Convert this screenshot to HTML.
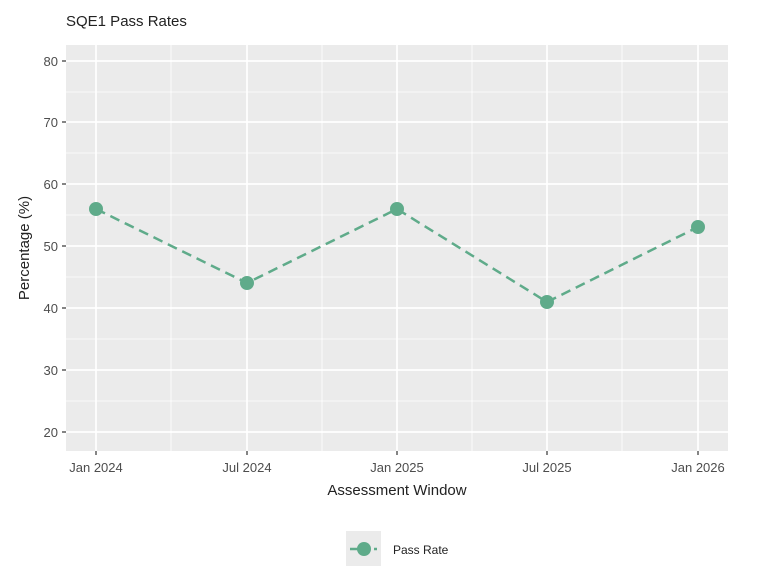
<!DOCTYPE html>
<html><head><style>body{margin:0;background:#fff}svg{display:block}</style></head><body>
<svg width="768" height="585" xmlns="http://www.w3.org/2000/svg" font-family="Liberation Sans, sans-serif">
<rect width="768" height="585" fill="#fff"/>
<text x="66" y="26" font-size="15" fill="#222">SQE1 Pass Rates</text>
<rect x="66" y="45" width="662" height="406" fill="#ebebeb"/>
<g stroke="#fff" stroke-width="0.8">
<line x1="66" x2="728" y1="92" y2="92"/><line x1="66" x2="728" y1="153" y2="153"/><line x1="66" x2="728" y1="215" y2="215"/><line x1="66" x2="728" y1="277" y2="277"/><line x1="66" x2="728" y1="339" y2="339"/><line x1="66" x2="728" y1="401" y2="401"/>
<line y1="45" y2="451" x1="171" x2="171"/><line y1="45" y2="451" x1="322" x2="322"/><line y1="45" y2="451" x1="472" x2="472"/><line y1="45" y2="451" x1="622" x2="622"/>
</g>
<g stroke="#fff" stroke-width="1.7">
<line x1="66" x2="728" y1="61" y2="61"/><line x1="66" x2="728" y1="122" y2="122"/><line x1="66" x2="728" y1="184" y2="184"/><line x1="66" x2="728" y1="246" y2="246"/><line x1="66" x2="728" y1="308" y2="308"/><line x1="66" x2="728" y1="370" y2="370"/><line x1="66" x2="728" y1="432" y2="432"/>
<line y1="45" y2="451" x1="96" x2="96"/><line y1="45" y2="451" x1="247" x2="247"/><line y1="45" y2="451" x1="397" x2="397"/><line y1="45" y2="451" x1="547" x2="547"/><line y1="45" y2="451" x1="698" x2="698"/>
</g>
<g stroke="#333" stroke-width="1.2">
<line x1="62" x2="66" y1="61" y2="61"/><line x1="62" x2="66" y1="122" y2="122"/><line x1="62" x2="66" y1="184" y2="184"/><line x1="62" x2="66" y1="246" y2="246"/><line x1="62" x2="66" y1="308" y2="308"/><line x1="62" x2="66" y1="370" y2="370"/><line x1="62" x2="66" y1="432" y2="432"/>
<line y1="451" y2="455" x1="96" x2="96"/><line y1="451" y2="455" x1="247" x2="247"/><line y1="451" y2="455" x1="397" x2="397"/><line y1="451" y2="455" x1="547" x2="547"/><line y1="451" y2="455" x1="698" x2="698"/>
</g>
<g font-size="13" fill="#4d4d4d" text-anchor="end">
<text x="58" y="66">80</text><text x="58" y="127">70</text><text x="58" y="189">60</text><text x="58" y="251">50</text><text x="58" y="313">40</text><text x="58" y="375">30</text><text x="58" y="437">20</text>
</g>
<g font-size="13" fill="#4d4d4d" text-anchor="middle">
<text x="96" y="472">Jan 2024</text><text x="247" y="472">Jul 2024</text><text x="397" y="472">Jan 2025</text><text x="547" y="472">Jul 2025</text><text x="698" y="472">Jan 2026</text>
</g>
<text x="397" y="495" font-size="15" fill="#222" text-anchor="middle">Assessment Window</text>
<text transform="translate(29,248) rotate(-90)" font-size="15" fill="#222" text-anchor="middle">Percentage (%)</text>
<polyline points="96,209 247,283 397,209 547,302 698,227" fill="none" stroke="#5fab8a" stroke-width="2.5" stroke-dasharray="10,6"/>
<g fill="#5fab8a">
<circle cx="96" cy="209" r="7"/><circle cx="247" cy="283" r="7"/><circle cx="397" cy="209" r="7"/><circle cx="547" cy="302" r="7"/><circle cx="698" cy="227" r="7"/>
</g>
<rect x="346" y="531" width="35" height="35" fill="#ebebeb"/>
<line x1="350" x2="377" y1="549" y2="549" stroke="#5fab8a" stroke-width="2.5" stroke-dasharray="8,4"/>
<circle cx="364" cy="549" r="7" fill="#5fab8a"/>
<text x="393" y="554" font-size="12" fill="#222">Pass Rate</text>
</svg>
</body></html>
